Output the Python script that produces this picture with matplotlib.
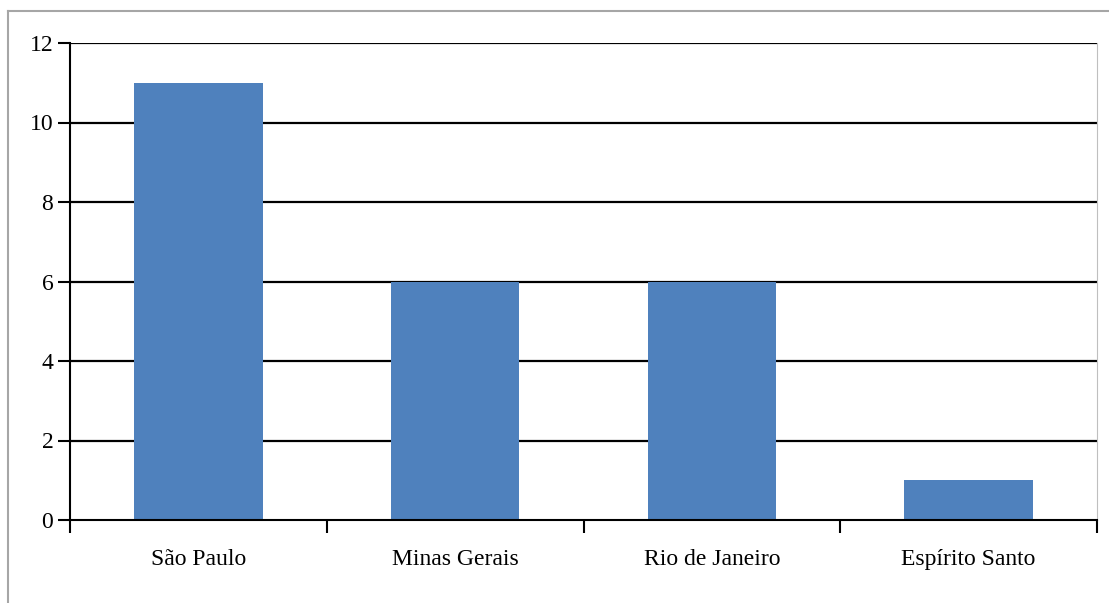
import matplotlib.pyplot as plt
from matplotlib.lines import Line2D

# Data
estados = ['São Paulo', 'Minas Gerais', 'Rio de Janeiro', 'Espírito Santo']
valores = [11, 6, 6, 1]
yticks = [0, 2, 4, 6, 8, 10, 12]

plt.rcParams['font.family'] = ['Liberation Serif', 'DejaVu Serif']

fig = plt.figure(figsize=(11.09, 6.03), dpi=100)
ax = fig.add_axes([70 / 1109, 1 - 520 / 603, 1027 / 1109, 477 / 603])

# Outer gray frame (top and left visible)
fig.add_artist(Line2D([8 / 1109, 1], [1 - 11 / 603, 1 - 11 / 603], color='#a6a6a6', linewidth=1.5))
fig.add_artist(Line2D([8 / 1109, 8 / 1109], [0, 1 - 11 / 603], color='#a6a6a6', linewidth=1.5))

x = list(range(len(estados)))
ax.bar(x, valores, width=0.5, color='#4f81bd', zorder=3)

# Gridlines
for v in yticks[1:]:
    ax.axhline(v, color='black', linewidth=1.6, zorder=1)

ax.set_xlim(-0.5, len(estados) - 0.5)
ax.set_ylim(0, 12)
ax.set_yticks(yticks)
ax.set_yticklabels([str(v) for v in yticks], fontsize=17)

# Category ticks on boundaries, labels centred
ax.set_xticks([i - 0.5 for i in range(len(estados) + 1)])
ax.set_xticklabels([])
ax.set_xticks(x, minor=True)
ax.set_xticklabels(estados, minor=True, fontsize=17)
ax.tick_params(axis='x', which='minor', length=0, pad=21)
ax.tick_params(axis='x', which='major', length=9, width=1.5, direction='out')
ax.tick_params(axis='y', length=9, width=1.5, direction='out', pad=3)

ax.spines['top'].set_visible(False)
ax.spines['right'].set_color('#bfbfbf')
ax.spines['left'].set_linewidth(1.5)
ax.spines['bottom'].set_linewidth(1.5)
ax.spines['left'].set_zorder(4)
ax.spines['bottom'].set_zorder(4)

fig.savefig('out.png', dpi=100)
